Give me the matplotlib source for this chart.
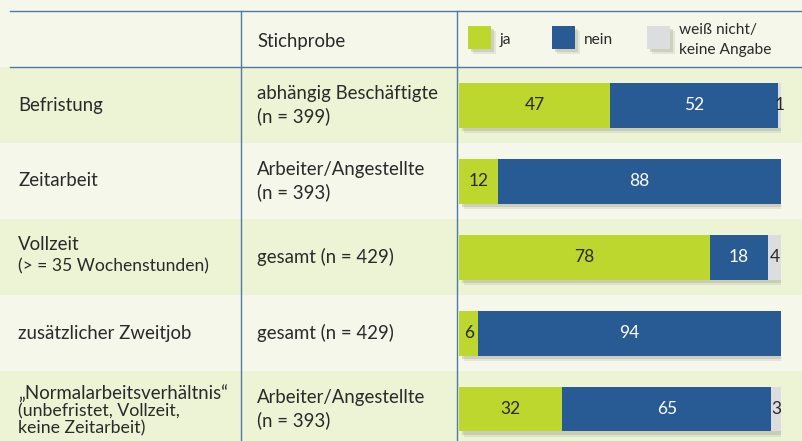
import matplotlib
matplotlib.use("Agg")
import matplotlib.pyplot as plt
import matplotlib.patheffects as pe
from matplotlib.patches import Rectangle

plt.rcParams['font.family'] = ['Lato', 'DejaVu Sans']

# data
rows = ["Befristung", "Zeitarbeit", "Vollzeit", "zusätzlicher Zweitjob",
        "\u201eNormalarbeitsverhältnis\u201c"]
row_notes = ["", "", "(> = 35 Wochenstunden)", "",
             "(unbefristet, Vollzeit,\nkeine Zeitarbeit)"]
samples = ["abhängig Beschäftigte\n(n = 399)", "Arbeiter/Angestellte\n(n = 393)",
           "gesamt (n = 429)", "gesamt (n = 429)", "Arbeiter/Angestellte\n(n = 393)"]
ja = [47, 12, 78, 6, 32]
nein = [52, 88, 18, 94, 65]
weiss_nicht = [1, 0, 4, 0, 3]
legend_labels = ["ja", "nein", "weiß nicht/\nkeine Angabe"]

GREEN = "#bed72f"
BLUE = "#285a93"
GREY = "#dcdddf"
LINE = "#4f7aa3"
TXT = "#2a2a2a"
BG = "#f5f7ea"
BAND = "#edf3d5"
FS = 13.4

W, H = 803, 441
fig = plt.figure(figsize=(W / 100, H / 100), dpi=100, facecolor=BG)

# background / table grid in pixel coords
bg = fig.add_axes([0, 0, 1, 1])
bg.set_xlim(0, W)
bg.set_ylim(H, 0)
bg.axis('off')

top0 = 67
rh = 76
for i in range(len(rows)):
    if i % 2 == 0:
        bg.add_patch(Rectangle((0, top0 + i * rh), W, rh, color=BAND, lw=0))

bg.plot([10, W], [11, 11], color=LINE, lw=1.0)
bg.plot([10, W], [67, 67], color=LINE, lw=1.0)
bg.plot([241, 241], [11, H], color=LINE, lw=1.0)
bg.plot([457, 457], [11, H], color=LINE, lw=1.0)

bg.text(257, 42, "Stichprobe", fontsize=FS, color=TXT, va='center')

shadow = [pe.SimplePatchShadow(offset=(2.5, -2.5), shadow_rgbFace='#9a9a86', alpha=0.3),
          pe.SimplePatchShadow(offset=(3.8, -3.8), shadow_rgbFace='#b0b09c', alpha=0.25),
          pe.Normal()]

# legend
leg_x = [468, 552, 647]
for x, c, lab in zip(leg_x, [GREEN, BLUE, GREY], legend_labels):
    r = Rectangle((x, 26), 23, 23, color=c, lw=0)
    r.set_path_effects(shadow)
    bg.add_patch(r)
    bg.text(x + 32, 40, lab, fontsize=11.2, color=TXT, va='center', linespacing=1.55)

# row labels
for i, (name, note, smp) in enumerate(zip(rows, row_notes, samples)):
    cy = top0 + i * rh + 38
    if note == "":
        bg.text(18, cy, name, fontsize=FS, color=TXT, va='center')
    elif "\n" in note:
        bg.text(18, cy - 16, name, fontsize=FS, color=TXT, va='center')
        bg.text(18, cy + 11, note, fontsize=12.8, color=TXT, va='center', linespacing=1.1)
    else:
        bg.text(18, cy - 12, name, fontsize=FS, color=TXT, va='center')
        bg.text(18, cy + 9, note, fontsize=12.6, color=TXT, va='center')
    bg.text(257, cy, smp, fontsize=FS, color=TXT, va='center', linespacing=1.3)

# bars
ax = fig.add_axes([459 / W, (H - (top0 + 5 * rh)) / H, 322 / W, 5 * rh / H])
ax.set_xlim(0, 100)
ax.set_ylim(len(rows) - 0.5, -0.5)
ax.axis('off')
ax.patch.set_alpha(0)

y = list(range(len(rows)))
left = [0] * len(rows)
for vals, c, tc in [(ja, GREEN, TXT), (nein, BLUE, 'white'), (weiss_nicht, GREY, TXT)]:
    bars = ax.barh(y, vals, left=left, height=45 / rh, color=c, lw=0)
    for b, v, l, yy in zip(bars, vals, left, y):
        b.set_path_effects(shadow)
        if v > 0:
            ax.text(l + v / 2, yy, str(v), ha='center', va='center',
                    fontsize=12.5, color=tc)
    left = [l + v for l, v in zip(left, vals)]

fig.savefig("out.png", dpi=100, facecolor=BG)
